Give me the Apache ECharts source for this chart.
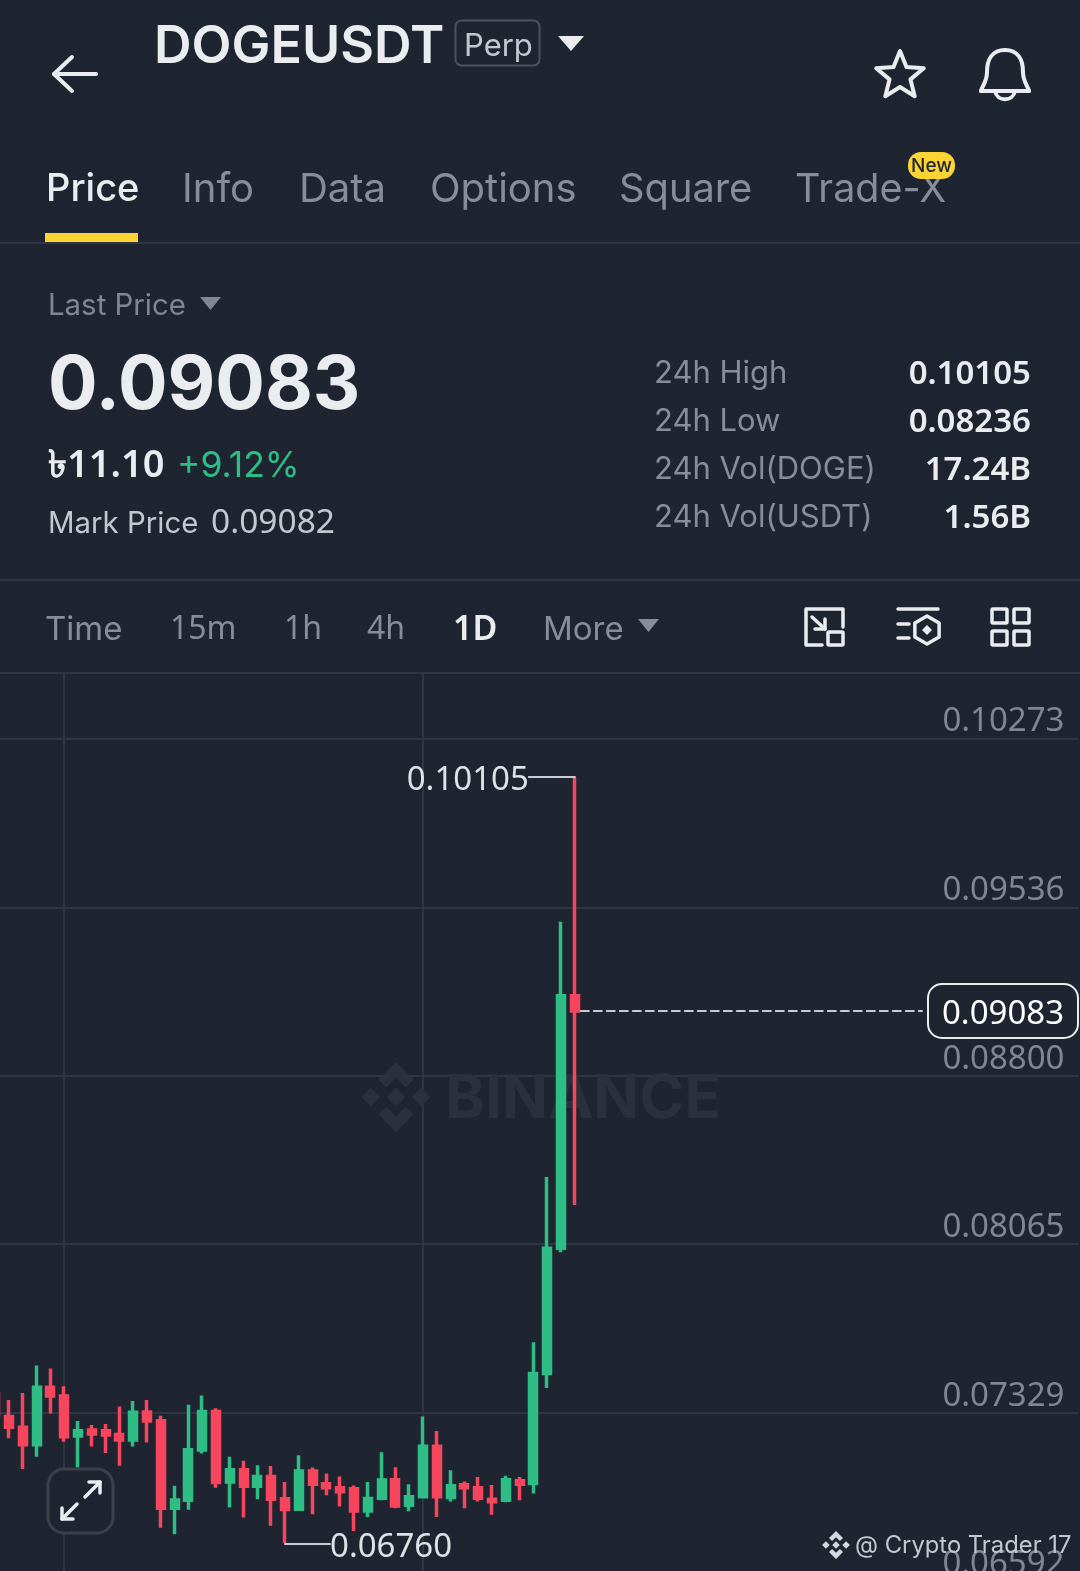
<!DOCTYPE html>
<html><head><meta charset="utf-8">
<style>html,body{margin:0;padding:0;background:#1f2530}#c{width:1080px;height:1571px}</style>
<script src="https://cdn.jsdelivr.net/npm/echarts@6/dist/echarts.min.js"></script>
</head><body><div id="c"></div>
<script>
const bodyTops=[.07411,.07312,.07265,.07440,.07440,.07402,.07250,.07253,.07250,.07234,.07331,.07332,.07294,.06948,.07167,.07334,.07334,.07080,.07080,.07051,.07051,.06953,.07074,.07075,.07019,.07001,.06997,.06954,.07035,.07036,.06962,.07183,.07183,.07010,.07014,.07001,.06951,.07036,.07032,.07500,.08047,.09150,.09150];
const bodyBottoms=[.07316,.07265,.07189,.07189,.07402,.07224,.07227,.07236,.07232,.07210,.07210,.07293,.06912,.06912,.06947,.07166,.07024,.07027,.07008,.07008,.06951,.06906,.06908,.07017,.07001,.06984,.06900,.06900,.06956,.06922,.06925,.06962,.06962,.06959,.07001,.06956,.06940,.06947,.07017,.07020,.07500,.08047,.09083];
const lows=[.07299,.07218,.07083,.07137,.07326,.07202,.07090,.07182,.07153,.07097,.07182,.07199,.06827,.06798,.06905,.07151,.07001,.06915,.06871,.06951,.06835,.06760,.06908,.06886,.06969,.06919,.06813,.06874,.06947,.06912,.06899,.06954,.06874,.06941,.06912,.06941,.06884,.06938,.06947,.06976,.07437,.08030,.08236];
const highs=[.07429,.07385,.07415,.07535,.07522,.07445,.07293,.07275,.07280,.07356,.07380,.07385,.07316,.07010,.07364,.07404,.07348,.07137,.07119,.07100,.07096,.07026,.07143,.07090,.07064,.07051,.07011,.07026,.07156,.07091,.07017,.07313,.07249,.07078,.07029,.07048,.07013,.07054,.07048,.07637,.08358,.09473,.10105];
const isUp=[0,0,0,1,0,0,1,0,0,0,1,0,0,1,1,1,0,1,0,1,0,0,1,0,0,0,0,1,1,0,1,1,0,1,0,0,0,1,0,1,1,1,0];
const priceTicks=[0.06592,0.07329,0.08065,0.08800,0.09536,0.10273];
const axisMin=0.06592, axisMax=0.10559;
const lastPrice=0.09083, highPrice=0.10105, lowPrice=0.06760;
const slots=79;
const categories=Array.from({length:slots},(_,i)=>'D'+(i+1));
const gridMarks=[5,31];
const tabs=[['Price',46,38],['Info',182,40],['Data',299,40],['Options',430,40],['Square',619,39.8],['Trade-X',795,39.5]];
const stats=[['24h High','0.10105'],['24h Low','0.08236'],['24h Vol(DOGE)','17.24B'],['24h Vol(USDT)','1.56B']];
const periods=[['Time',45,'i'],['15m',170,'n'],['1h',284,'n'],['4h',367,'n'],['1D',453,'n'],['More',543,'i']];

const F='Inter, "Noto Sans", sans-serif', N='"Noto Sans", sans-serif';
const BG='#1f2530',GR='#2EBD85',RD='#F6465D',W='#eaecef',G1='#7f8794',LINE='#2f3541',Y='#FCD535';
const data=categories.map((_,i)=> i<bodyTops.length ? (isUp[i]?[bodyBottoms[i],bodyTops[i],lows[i],highs[i]]:[bodyTops[i],bodyBottoms[i],lows[i],highs[i]]) : '-');

const chart=echarts.init(document.getElementById('c'),null,{renderer:'canvas',width:1080,height:1571});
chart.setOption({
  backgroundColor:BG,animation:false,
  grid:{left:-11.7,top:673,width:slots*13.8,height:908.5,containLabel:false,outerBoundsMode:'none'},
  xAxis:{type:'category',data:categories,axisLine:{show:false},axisTick:{show:false},axisLabel:{show:false},
    splitLine:{show:true,alignWithLabel:true,interval:(i)=>gridMarks.includes(i),lineStyle:{color:LINE,width:2}}},
  yAxis:{type:'value',position:'right',min:axisMin,max:axisMax,scale:true,
    axisLine:{show:false},
    axisTick:{show:false,customValues:priceTicks},
    axisLabel:{inside:true,margin:14,customValues:priceTicks,formatter:v=>v.toFixed(5),color:G1,fontFamily:N,fontSize:33,verticalAlign:'bottom',padding:[0,0,0,0],showMinLabel:true,showMaxLabel:true,hideOverlap:false},
    splitLine:{show:true,lineStyle:{color:LINE,width:2}}},
  series:[{type:'candlestick',data,barWidth:7.5,clip:false,z:5,
    itemStyle:{color:GR,color0:RD,borderColor:GR,borderColor0:RD,borderWidth:3.5}}]
});

const els=[];
const T=(t,x,y,s,c,w,a,fam)=>els.push({type:'text',z:100,silent:true,style:{text:t,x,y:y+s*(fam?0.1:0.07),fill:c,fontFamily:fam||F,fontSize:s,fontWeight:w||400,align:a||'left',verticalAlign:'middle'}});
const L=(x1,y1,x2,y2,c,w,dash)=>els.push({type:'line',z:100,silent:true,shape:{x1,y1,x2,y2},style:{stroke:c,lineWidth:w||2,lineDash:dash||null,lineCap:'round'}});
const P=(pts,c,w)=>els.push({type:'polyline',z:100,silent:true,shape:{points:pts},style:{stroke:c,lineWidth:w||3,fill:null,lineJoin:'round',lineCap:'round'}});
const Gon=(pts,f,s,w,z)=>els.push({type:'polygon',z:z||100,silent:true,shape:{points:pts},style:{fill:f||null,stroke:s||null,lineWidth:w||0,lineJoin:'round'}});
const R=(x,y,wd,h,r,f,s,lw)=>els.push({type:'rect',z:100,silent:true,shape:{x,y,width:wd,height:h,r},style:{fill:f||null,stroke:s||null,lineWidth:lw||0}});
const B=(x1,y1,cx1,cy1,cx2,cy2,x2,y2,c,w)=>els.push({type:'bezierCurve',z:100,silent:true,shape:{x1,y1,cpx1:cx1,cpy1:cy1,cpx2:cx2,cpy2:cy2,x2,y2},style:{stroke:c,lineWidth:w,fill:null,lineCap:'round'}});
const Dm=(cx,cy,s,f,z)=>Gon([[cx,cy-s],[cx+s,cy],[cx,cy+s],[cx-s,cy]],f,null,0,z);
function logo(cx,cy,r,c,z){
  Dm(cx,cy,r*.27,c,z);Dm(cx-r*.72,cy,r*.27,c,z);Dm(cx+r*.72,cy,r*.27,c,z);
  const t=r*.22;
  Gon([[cx,cy-r],[cx+r*.5,cy-r*.5],[cx+r*.5-t,cy-r*.5+t],[cx,cy-r+2*t],[cx-r*.5+t,cy-r*.5+t],[cx-r*.5,cy-r*.5]],c,null,0,z);
  Gon([[cx,cy+r],[cx+r*.5,cy+r*.5],[cx+r*.5-t,cy+r*.5-t],[cx,cy+r-2*t],[cx-r*.5+t,cy+r*.5-t],[cx-r*.5,cy+r*.5]],c,null,0,z);
}

logo(396,1097,35,'#2a313c',1);
els.push({type:'text',z:1,silent:true,style:{text:'BINANCE',x:445,y:1100,fill:'#2a313c',fontFamily:F,fontSize:60.5,fontWeight:700,verticalAlign:'middle'}});

// header
L(54,74,96,74,W,4);P([[72,57],[54,74],[72,91]],W,4);
T('DOGEUSDT',154,44,52,W,600);
R(455.5,20.5,84,45,6,null,'#4a525f',2);
T('Perp',464,45,31,'#c3c8d0',400);
Gon([[558,36],[584,36],[571,51]],W);
const star=[];for(let i=0;i<10;i++){const a=-Math.PI/2+i*Math.PI/5,r=i%2?11:25;star.push([900+r*Math.cos(a),76+r*Math.sin(a)]);}
Gon(star,null,W,4);
const bx=2;
B(1003+bx,50,990+bx,50,985+bx,60,985+bx,72,W,4);B(985+bx,72,985+bx,82,980+bx,86,979+bx,91,W,4);
B(1003+bx,50,1016+bx,50,1021+bx,60,1021+bx,72,W,4);B(1021+bx,72,1021+bx,82,1026+bx,86,1027+bx,91,W,4);
L(979+bx,91,1027+bx,91,W,4);B(993+bx,91,995+bx,102,1011+bx,102,1013+bx,91,W,4);

// tabs
tabs.forEach((t,i)=>T(t[0],t[1],187,t[2],i?'#868e9b':W,i?400:500));
R(45,233,93,9,0,Y);
L(0,243,1080,243,LINE,2);
R(908,152,47,27,13,Y);T('New',931.5,165,19,'#1f2530',500,'center');

// price block
T('Last Price',48,304,29.4,G1);Gon([[200,297],[221,297],[210.5,310]],G1);
T('0.09083',48,382,73.6,W,700);
T('৳11.10',48,462,38,W,600,'left',N);
T('+9.12%',177,464,35.5,GR,400);
T('Mark Price',48,522,29.4,'#c3c8d0');T('0.09082',211,520,33.5,'#c3c8d0',400,'left',N);
stats.forEach((s,i)=>{const y=371+i*48;T(s[0],654,y+1,31,'#868e9b');T(s[1],1031,y,33,W,600,'right',N);});
L(0,580,1080,580,LINE,2);

// period row
periods.forEach(p=>T(p[0],p[1],p[2]==='i'?628:627,p[2]==='i'?33:(p[0]==='1D'?34:32),p[0]==='1D'?W:'#868e9b',p[0]==='1D'?600:400,'left',p[2]==='n'?N:undefined));
Gon([[638,619],[659,619],[648.5,632]],'#868e9b');
P([[822,645],[806,645],[806,609],[843,609],[843,627]],W,3.5);
R(828,632,15,13,1,null,W,3.5);
P([[812,617],[825,629]],W,3.5);P([[825,619],[825,629],[815,629]],W,3.5);
L(898,609,938,609,W,3.5);L(898,624,909,624,W,3.5);L(898,638,909,638,W,3.5);
const hex=[];for(let i=0;i<6;i++){const a=-Math.PI/2+i*Math.PI/3;hex.push([927+14*Math.cos(a),630+14*Math.sin(a)]);}
Gon(hex,null,W,3.5);Dm(927,630,5,W);
[[992,609],[1014,609],[992,631],[1014,631]].forEach(q=>R(q[0],q[1],15,14,1,null,W,3.5));
L(0,673,1080,673,LINE,2);

// annotations positioned through the chart's own scales
const px=(i,v)=>chart.convertToPixel({gridIndex:0},[i,v]);
const last=bodyTops.length-1;
const hi=px(last,highPrice),cl=px(last,lastPrice),low=px(21,lowPrice);
L(hi[0],hi[1],hi[0]-46,hi[1],'#c9ccd2',2);
T('0.10105',hi[0]-46,hi[1],33,'#dfe2e6',400,'right',N);
L(low[0],low[1]+1,low[0]+45,low[1]+1,'#c9ccd2',2);
T('0.06760',low[0]+45,low[1]+1,33,'#dfe2e6',400,'left',N);
L(cl[0]+6,cl[1],922,cl[1],'#c9ccd2',2,[8,5]);
R(928,984,150,54,14,BG,W,2);
T('0.09083',1003,cl[1],33,'#ffffff',400,'center',N);

// expand button
R(48,1469,65,64,16,BG,'#3a414d',3);
L(85,1497,100,1482,W,3.5);P([[89,1482],[100,1482],[100,1493]],W,3.5);
L(77,1504,62,1519,W,3.5);P([[62,1508],[62,1519],[73,1519]],W,3.5);

// credit
logo(836,1545,14,'#d5d8dd',100);
T('@ Crypto Trader 17',855,1544,23.8,'#c3c8d0');

chart.setOption({graphic:{elements:els}});
</script>
</body></html>
